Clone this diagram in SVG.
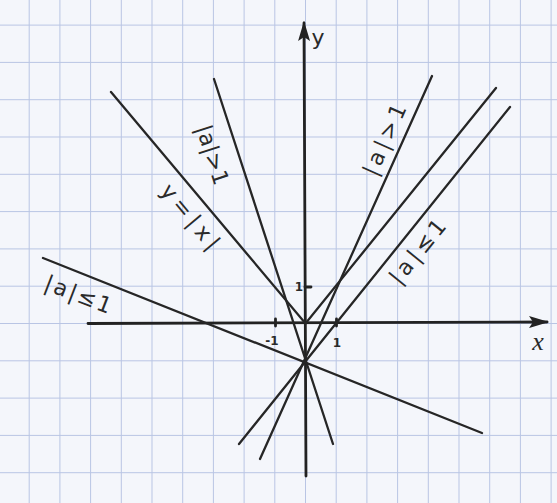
<svg xmlns="http://www.w3.org/2000/svg" width="557" height="503" viewBox="0 0 557 503">
<defs>
<style>
.grid line{stroke:#b9c5e4;stroke-width:1}
.ln{stroke:#262626;stroke-width:2.3;stroke-linecap:round;fill:none}
.ax{stroke:#222;stroke-width:2.8;stroke-linecap:round;fill:none}
.lbl{font-family:"DejaVu Sans",sans-serif;font-size:22px;fill:#2a2a2a}
.num{font-family:"DejaVu Sans",sans-serif;font-size:12px;font-weight:bold;fill:#2a2a2a}
</style>
<marker id="arr" viewBox="0 0 20 12" refX="18" refY="6" markerWidth="20" markerHeight="12" markerUnits="userSpaceOnUse" orient="auto">
<path d="M0,0 L20,6 L0,12 L4,6 Z" fill="#222"/>
</marker>
</defs>
<rect width="557" height="503" fill="#f4f6fb"/>
<g class="grid" id="grid">
<line x1="29.2" y1="0" x2="29.2" y2="503"/>
<line x1="59.9" y1="0" x2="59.9" y2="503"/>
<line x1="90.6" y1="0" x2="90.6" y2="503"/>
<line x1="121.3" y1="0" x2="121.3" y2="503"/>
<line x1="152" y1="0" x2="152" y2="503"/>
<line x1="182.7" y1="0" x2="182.7" y2="503"/>
<line x1="213.4" y1="0" x2="213.4" y2="503"/>
<line x1="244.1" y1="0" x2="244.1" y2="503"/>
<line x1="274.8" y1="0" x2="274.8" y2="503"/>
<line x1="305.5" y1="0" x2="305.5" y2="503"/>
<line x1="336.2" y1="0" x2="336.2" y2="503"/>
<line x1="366.9" y1="0" x2="366.9" y2="503"/>
<line x1="397.6" y1="0" x2="397.6" y2="503"/>
<line x1="428.3" y1="0" x2="428.3" y2="503"/>
<line x1="459" y1="0" x2="459" y2="503"/>
<line x1="489.7" y1="0" x2="489.7" y2="503"/>
<line x1="520.4" y1="0" x2="520.4" y2="503"/>
<line x1="551.1" y1="0" x2="551.1" y2="503"/>
<line x1="0" y1="25.1" x2="557" y2="25.1"/>
<line x1="0" y1="62.4" x2="557" y2="62.4"/>
<line x1="0" y1="99.7" x2="557" y2="99.7"/>
<line x1="0" y1="137" x2="557" y2="137"/>
<line x1="0" y1="174.3" x2="557" y2="174.3"/>
<line x1="0" y1="211.6" x2="557" y2="211.6"/>
<line x1="0" y1="248.9" x2="557" y2="248.9"/>
<line x1="0" y1="286.2" x2="557" y2="286.2"/>
<line x1="0" y1="323.5" x2="557" y2="323.5"/>
<line x1="0" y1="360.8" x2="557" y2="360.8"/>
<line x1="0" y1="398.1" x2="557" y2="398.1"/>
<line x1="0" y1="435.4" x2="557" y2="435.4"/>
<line x1="0" y1="472.7" x2="557" y2="472.7"/>
</g>
<g id="axes">
<line class="ax" x1="88" y1="323.5" x2="547" y2="322" marker-end="url(#arr)"/>
<line class="ax" x1="306" y1="476" x2="304" y2="23" marker-end="url(#arr)"/>
<line class="ax" x1="275.5" y1="319" x2="275.5" y2="326" stroke-width="2"/>
<line class="ax" x1="336.5" y1="319" x2="336.5" y2="326" stroke-width="2"/>
<line class="ax" x1="305" y1="287" x2="311" y2="287" stroke-width="2"/>
<text class="num" x="272" y="345" text-anchor="middle">-1</text>
<text class="num" x="337" y="347" text-anchor="middle">1</text>
<text class="num" x="299" y="291" text-anchor="middle">1</text>
<text class="lbl" x="318" y="45" text-anchor="middle">y</text>
<text class="lbl" x="538" y="350" text-anchor="middle" style="font-family:'Liberation Serif',serif;font-style:italic;font-size:26px">x</text>
</g>
<g id="lines">
<polyline class="ln" points="111,92 305.5,323.5 496,88"/>
<line class="ln" x1="214" y1="79" x2="333" y2="444"/>
<line class="ln" x1="432" y1="76" x2="260" y2="459"/>
<line class="ln" x1="510" y1="107" x2="239" y2="444"/>
<line class="ln" x1="43" y1="258" x2="482" y2="433"/>
</g>
<g id="labels">
<text class="lbl" transform="translate(212,155) rotate(72)" x="0" y="7" text-anchor="middle" textLength="62">|a|&gt;1</text>
<text class="lbl" transform="translate(190,217) rotate(50)" x="0" y="7" text-anchor="middle" textLength="78">y=|x|</text>
<text class="lbl" transform="translate(385,140) rotate(-66)" x="0" y="7" text-anchor="middle" textLength="76">|a|&gt;1</text>
<text class="lbl" transform="translate(418,252) rotate(-51)" x="0" y="7" text-anchor="middle" textLength="76">|a|≤1</text>
<text class="lbl" transform="translate(78,295) rotate(21)" x="0" y="7" text-anchor="middle" textLength="70">|a|≤1</text>
</g>
</svg>
